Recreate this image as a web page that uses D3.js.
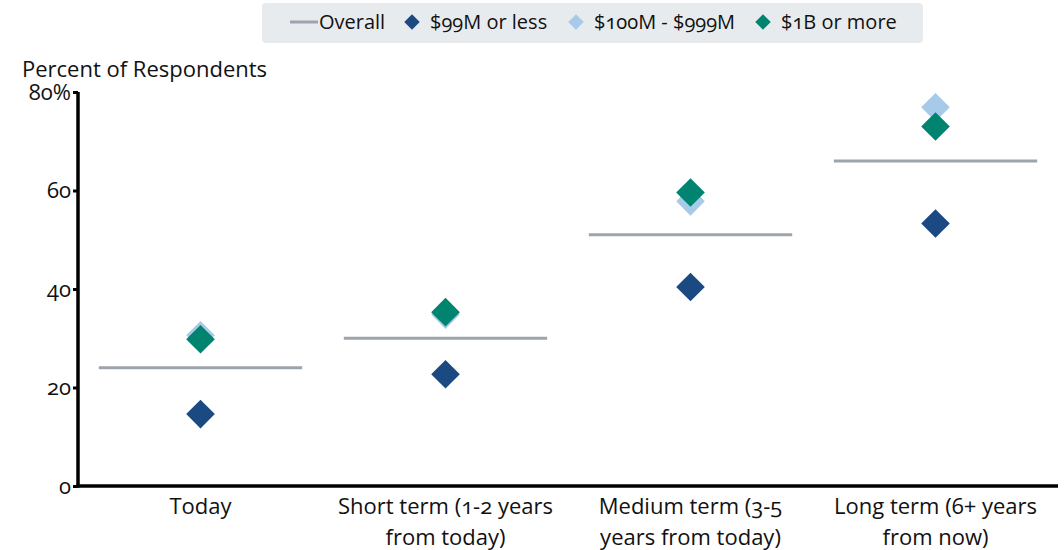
<!DOCTYPE html>
<html>
<head>
<meta charset="utf-8">
<script src="https://cdn.jsdelivr.net/npm/d3@7"></script>
<style>
  html, body { margin: 0; padding: 0; background: #fff; }
  svg text { font-family: "Open Sans", "Noto Sans", sans-serif; font-variant-numeric: oldstyle-nums; font-feature-settings: "onum" 1; fill: #111; }
</style>
</head>
<body>
<svg id="chart" width="1064" height="550"></svg>
<script>
// Horizon categories (x axis), two-line labels
const categories = ["Today", "Short term", "Medium term", "Long term"];
const categoryLabels = [
  ["Today"],
  ["Short term (1-2 years", "from today)"],
  ["Medium term (3-5", "years from today)"],
  ["Long term (6+ years", "from now)"]
];

// Percent of respondents
const overall      = [24, 30, 51, 66];
const rev99OrLess  = [14.6, 22.7, 40.4, 53.3];
const rev100To999  = [30.6, 34.8, 57.8, 76.9];
const rev1BOrMore  = [29.8, 35.3, 59.6, 73.0];

const yTicks = [0, 20, 40, 60, 80];

const seriesNames  = ["$99M or less", "$100M - $999M", "$1B or more"];
const seriesColors = ["#1b4a82", "#a7cae8", "#00846f"];
const seriesValues = [rev99OrLess, rev100To999, rev1BOrMore];
const overallColor = "#9ca5ad";

const svg = d3.select("#chart");
const margin = { left: 78, right: 6, top: 92, bottom: 64 };
const W = 1064, H = 550;

const x = d3.scaleBand().domain(categories).range([margin.left, W - margin.right]);
const y = d3.scaleLinear().domain([0, 80]).range([H - margin.bottom, margin.top]);

// Overall reference lines per category
const lineHalf = x.bandwidth() * 0.415;
svg.append("g").selectAll("line").data(categories).join("line")
  .attr("x1", d => x(d) + x.bandwidth() / 2 - lineHalf)
  .attr("x2", d => x(d) + x.bandwidth() / 2 + lineHalf)
  .attr("y1", (d, i) => y(overall[i]))
  .attr("y2", (d, i) => y(overall[i]))
  .attr("stroke", overallColor)
  .attr("stroke-width", 3);

// Diamond markers per segment
const diamond = d3.symbol().type(d3.symbolSquare).size(410);
seriesValues.forEach((vals, s) => {
  svg.append("g").selectAll("path").data(categories).join("path")
    .attr("d", diamond)
    .attr("fill", seriesColors[s])
    .attr("transform", (d, i) => `translate(${x(d) + x.bandwidth() / 2},${y(vals[i])}) rotate(45)`);
});

// Y axis
const yAxis = d3.axisLeft(y).tickValues(yTicks).tickSize(5).tickPadding(2)
  .tickFormat(d => d === 80 ? "80%" : String(d));
const gy = svg.append("g").attr("transform", `translate(${margin.left},0)`).call(yAxis);
gy.select(".domain").attr("stroke", "#000").attr("stroke-width", 3.5)
  .attr("d", `M0,${y(0) + 1.5}V${y(80)}`);
gy.selectAll(".tick line").attr("stroke", "#000").attr("stroke-width", 3);
gy.selectAll(".tick text").attr("font-size", 22).attr("fill", "#111");

// X axis
const gx = svg.append("g").attr("transform", `translate(0,${y(0)})`)
  .call(d3.axisBottom(x).tickSize(0).tickFormat(""));
gx.select(".domain").attr("stroke", "#000").attr("stroke-width", 3.5)
  .attr("d", `M${margin.left - 1.5},0H${W - margin.right}`);
gx.selectAll(".tick").each(function(d, i) {
  const t = d3.select(this).append("text")
    .attr("text-anchor", "middle")
    .attr("font-size", 22)
    .attr("fill", "#111");
  categoryLabels[i].forEach((ln, k) => {
    t.append("tspan").attr("x", 0).attr("y", 28 + k * 31).text(ln);
  });
});

// Y axis title
svg.append("text").attr("x", 22).attr("y", 77)
  .attr("font-size", 22).text("Percent of Respondents");

// Legend
const legend = svg.append("g");
legend.append("rect").attr("x", 262).attr("y", 3).attr("width", 661).attr("height", 40)
  .attr("rx", 4).attr("fill", "#e8ebed");
legend.append("line").attr("x1", 290).attr("x2", 318).attr("y1", 22).attr("y2", 22)
  .attr("stroke", overallColor).attr("stroke-width", 3);
legend.append("text").attr("x", 319).attr("y", 29).attr("font-size", 20).text("Overall");
const legendX = [412, 576, 763];
const legendDiamond = d3.symbol().type(d3.symbolSquare).size(120);
seriesNames.forEach((name, s) => {
  legend.append("path").attr("d", legendDiamond).attr("fill", seriesColors[s])
    .attr("transform", `translate(${legendX[s]},22) rotate(45)`);
  legend.append("text").attr("x", legendX[s] + 18).attr("y", 29)
    .attr("font-size", 20).text(name);
});
</script>
</body>
</html>
